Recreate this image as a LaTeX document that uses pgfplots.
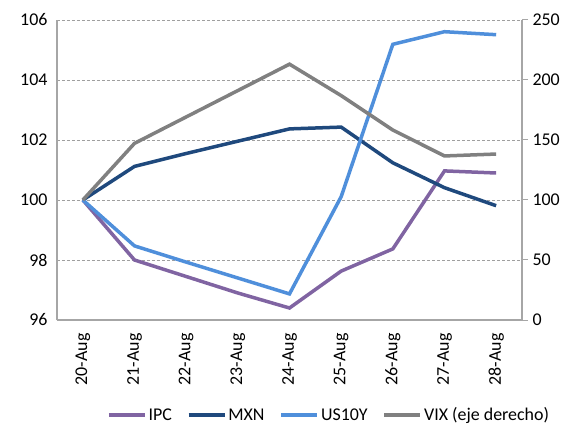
\documentclass[border=0pt]{standalone}
\usepackage{pgfplots}
\pgfplotsset{compat=1.18}
\usepackage{fontspec}
\setmainfont{Carlito}
\definecolor{cipc}{HTML}{8064A2}
\definecolor{cmxn}{HTML}{1F497D}
\definecolor{cus}{HTML}{4F8FDB}
\definecolor{cvix}{HTML}{808080}
\definecolor{caxis}{HTML}{A6A6A6}
\begin{document}
\begin{tikzpicture}[font=\fontsize{18}{21}\selectfont]
\pgfplotsset{
  every axis/.append style={
    scale only axis, width=465bp, height=300bp,
    xmin=-0.5, xmax=8.5,
    axis line style={caxis, line width=1.2bp},
    tick label style={font=\fontsize{18}{21}\selectfont, black},
    /pgf/number format/assume math mode=true,
  }
}
\path[use as bounding box] (-57bp,-113bp) rectangle (513bp,320bp);
\begin{axis}[
  at={(0,0)}, anchor=south west,
  axis x line*=bottom, axis y line*=left,
  ymin=96, ymax=106, ytick={96,98,...,106},
  ymajorgrids, grid style={gray!75, dash pattern=on 3bp off 2bp, line width=0.8bp},
  xtick={0,...,8},
  xticklabels={20-Aug,21-Aug,22-Aug,23-Aug,24-Aug,25-Aug,26-Aug,27-Aug,28-Aug},
  x tick label style={rotate=90, anchor=east, xshift=-10bp},
  y tick label style={xshift=-6bp},
  xtick style={draw=none}, ytick style={draw=none},
  legend columns=4,
  legend style={at={(0.585,-0.317)}, anchor=center, draw=none, fill=none,
    font=\fontsize{18}{21}\selectfont,
    /tikz/every even column/.append style={column sep=13bp}},
  legend image code/.code={\draw[#1] (0bp,0bp) -- (36bp,0bp);},
]
\addplot[cipc, line width=3.5bp] coordinates {(0,100) (1,98.0) (2,97.45) (3,96.9) (4,96.4) (5,97.63) (6,98.37) (7,100.97) (8,100.9)};
\addlegendentry{IPC}
\addplot[cmxn, line width=3.5bp] coordinates {(0,100) (1,101.12) (2,101.55) (3,101.96) (4,102.37) (5,102.43) (6,101.24) (7,100.41) (8,99.81)};
\addlegendentry{MXN}
\addplot[cus, line width=3.5bp] coordinates {(0,100) (1,98.47) (2,97.93) (3,97.4) (4,96.87) (5,100.11) (6,105.19) (7,105.61) (8,105.51)};
\addlegendentry{US10Y}
\addlegendimage{cvix, line width=3.5bp}
\addlegendentry{VIX (eje derecho)}
\end{axis}
\begin{axis}[
  at={(0,0)}, anchor=south west,
  axis x line=none, axis y line*=right,
  ymin=0, ymax=250, ytick={0,50,...,250},
  ytick style={caxis, line width=1bp}, tick align=outside, major tick length=6bp,
  y tick label style={xshift=1bp},
]
\addplot[cvix, line width=3.5bp] coordinates {(0,100) (1,147.2) (2,169.2) (3,191.2) (4,213.2) (5,187) (6,158.3) (7,136.7) (8,138.3)};
\end{axis}
\end{tikzpicture}
\end{document}
